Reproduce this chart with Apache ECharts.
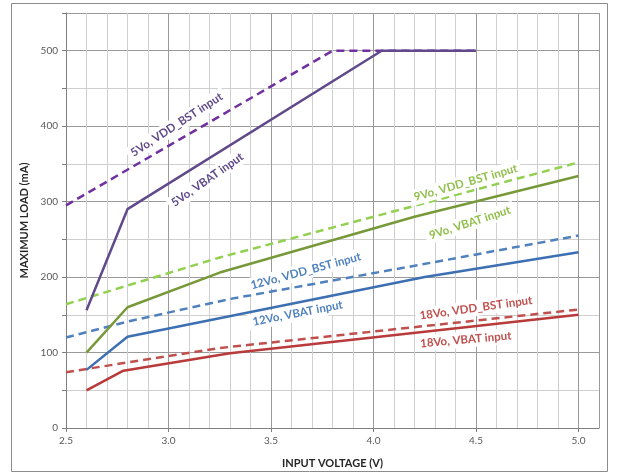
<!DOCTYPE html>
<html>
<head>
<meta charset="utf-8">
<script src="https://cdn.jsdelivr.net/npm/echarts@6/dist/echarts.min.js"></script>
<style>
  html, body { margin: 0; padding: 0; background: #fff; }
  #chart { width: 617px; height: 475px; }
</style>
</head>
<body>
<div id="chart"></div>
<script>
// Maximum load versus input voltage, per output voltage and supply input
const v5BstV = [2.5, 3.8, 4.5];
const v5BstMA = [295, 500, 500];
const v5BatV = [2.6, 2.8, 4.04, 4.5];
const v5BatMA = [156, 290, 500, 500];

const v9BstV = [2.5, 3.25, 5.0];
const v9BstMA = [164, 226, 352];
const v9BatV = [2.6, 2.8, 3.25, 4.2, 5.0];
const v9BatMA = [100, 160, 206, 280, 334];

const v12BstV = [2.5, 2.8, 3.3, 4.2, 5.0];
const v12BstMA = [120, 141, 171, 215, 255];
const v12BatV = [2.6, 2.8, 4.25, 5.0];
const v12BatMA = [77, 121, 200, 233];

const v18BstV = [2.5, 3.25, 5.0];
const v18BstMA = [74, 106, 157];
const v18BatV = [2.6, 2.78, 3.3, 5.0];
const v18BatMA = [50, 76, 99, 150];

// Curve captions: text, anchor (V, mA), tilt in degrees
const captionText = [
  '5Vo, VDD_BST input', '5Vo, VBAT input',
  '9Vo, VDD_BST input', '9Vo, VBAT input',
  '12Vo, VDD_BST input', '12Vo, VBAT input',
  '18Vo, VDD_BST input', '18Vo, VBAT input'
];
const captionV = [3.04, 3.19, 4.45, 4.47, 3.67, 3.63, 4.50, 4.45];
const captionMA = [402, 329, 325, 272, 208, 152, 159, 117];
const captionTilt = [33, 35, 16, 18, 15, 11, 8, 5];

const zip = (xs, ys) => xs.map((x, i) => [x, ys[i]]);

const C = {
  purpleDash: '#7030a0', purple: '#604a8b',
  greenDash: '#92d050', green: '#77993a',
  blueDash: '#4f81bd', blue: '#3d6fb3',
  redDash: '#c0504d', red: '#b83a3a'
};
const captionColor = [C.purple, C.purple, '#8fbf4a', '#8fbf4a', C.blueDash, C.blueDash, '#c0504d', '#c0504d'];

function line(name, data, color, dashed, z) {
  return {
    name, type: 'line', data, symbol: 'none', z: z,
    lineStyle: { color, width: 2.5, type: dashed ? [8, 5] : 'solid' },
    itemStyle: { color },
    animation: false
  };
}

const chart = echarts.init(document.getElementById('chart'), null, { renderer: 'canvas' });

const axisFont = 'Lato';
chart.setOption({
  backgroundColor: '#fff',
  animation: false,
  grid: { left: 66, right: 18, top: 13, bottom: 47 },
  xAxis: {
    type: 'value', min: 2.5, max: 5.1, interval: 0.5,
    name: 'INPUT VOLTAGE (V)', nameLocation: 'middle', nameGap: 30,
    nameTextStyle: { fontFamily: axisFont, fontWeight: 'bold', fontSize: 11, color: '#262626' },
    axisLine: { show: true, lineStyle: { color: '#7f7f7f', width: 1 } },
    axisTick: { show: true, length: 4, lineStyle: { color: '#7f7f7f' } },
    minorTick: { show: false, splitNumber: 5 },
    axisLabel: {
      showMaxLabel: false, fontFamily: axisFont, fontSize: 10, color: '#595959', margin: 8,
      formatter: v => v.toFixed(1)
    },
    splitLine: { show: true, lineStyle: { color: '#9a9a9a', width: 1 } },
    minorSplitLine: { show: true, lineStyle: { color: '#cfcfcf', width: 1 } }
  },
  yAxis: {
    type: 'value', min: 0, max: 550, interval: 100,
    name: 'MAXIMUM LOAD (mA)', nameLocation: 'middle', nameGap: 36,
    nameTextStyle: { fontFamily: axisFont, fontWeight: 'bold', fontSize: 11, color: '#262626' },
    axisLine: { show: true, lineStyle: { color: '#7f7f7f', width: 1 } },
    axisTick: { show: true, length: 4, lineStyle: { color: '#7f7f7f' } },
    minorTick: { show: true, splitNumber: 2, length: 4, lineStyle: { color: '#7f7f7f' } },
    axisLabel: { showMaxLabel: false, fontFamily: axisFont, fontSize: 10, color: '#595959', margin: 8 },
    splitLine: { show: true, lineStyle: { color: '#9a9a9a', width: 1 } },
    minorSplitLine: { show: true, lineStyle: { color: '#cfcfcf', width: 1 } }
  },
  series: [
    line('5Vo, VDD_BST input', zip(v5BstV, v5BstMA), C.purpleDash, true, 2),
    line('5Vo, VBAT input', zip(v5BatV, v5BatMA), C.purple, false, 3),
    line('9Vo, VDD_BST input', zip(v9BstV, v9BstMA), C.greenDash, true, 2),
    line('9Vo, VBAT input', zip(v9BatV, v9BatMA), C.green, false, 3),
    line('12Vo, VDD_BST input', zip(v12BstV, v12BstMA), C.blueDash, true, 2),
    line('12Vo, VBAT input', zip(v12BatV, v12BatMA), C.blue, false, 3),
    line('18Vo, VDD_BST input', zip(v18BstV, v18BstMA), C.redDash, true, 2),
    line('18Vo, VBAT input', zip(v18BatV, v18BatMA), C.red, false, 3)
  ]
});

// Captions placed in data space and converted to pixels
const captions = captionText.map((t, i) => {
  const p = chart.convertToPixel({ gridIndex: 0 }, [captionV[i], captionMA[i]]);
  return {
    type: 'text', x: p[0], y: p[1], z: 10,
    rotation: captionTilt[i] * Math.PI / 180,
    style: {
      text: t, fill: captionColor[i],
      font: 'bold 11.5px Lato',
      align: 'center', verticalAlign: 'middle',
      backgroundColor: '#ffffff', padding: [2, 4]
    }
  };
});

chart.setOption({
  graphic: [
    {
      type: 'rect', z: 0, silent: true,
      shape: { x: 11.5, y: 3.5, width: 596, height: 468 },
      style: { fill: 'none', stroke: '#8c8c8c', lineWidth: 1 }
    }
  ].concat(captions)
});
</script>
</body>
</html>
